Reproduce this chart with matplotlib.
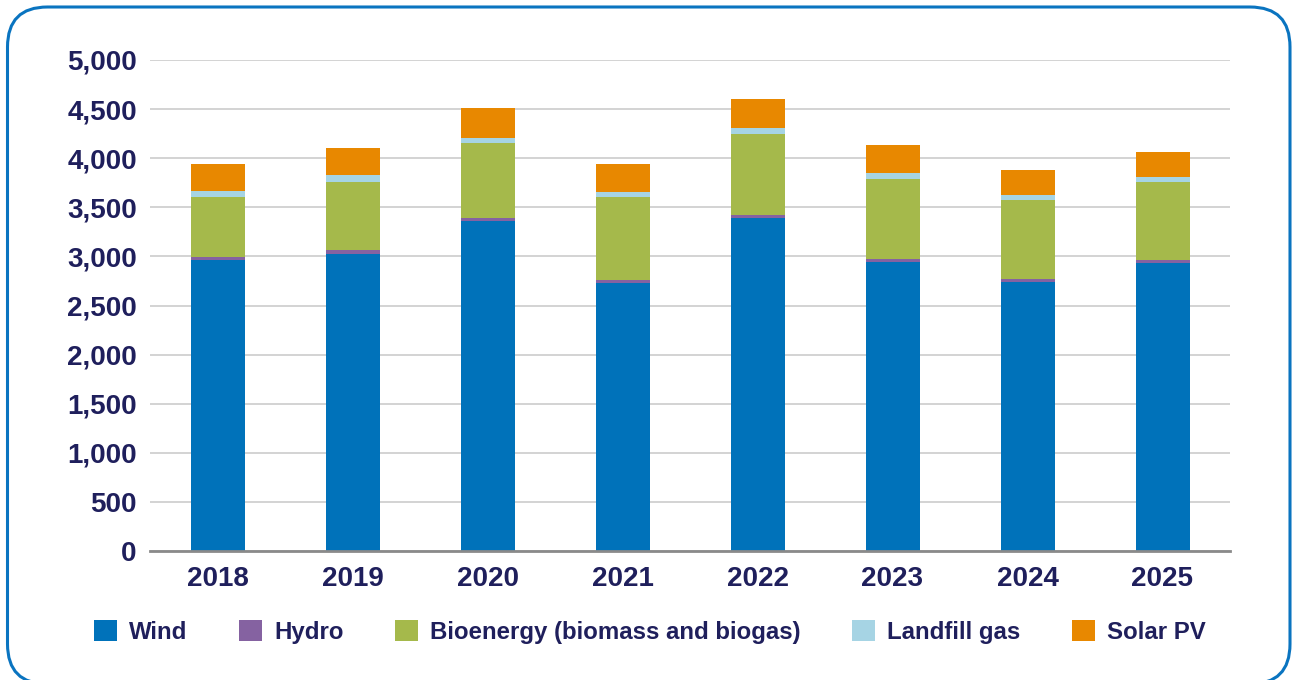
import matplotlib
matplotlib.use("Agg")
import matplotlib.pyplot as plt
from matplotlib.patches import FancyBboxPatch, Patch
import numpy as np

# Renewable generation by source (stacked), 2018-2025
years = ["2018", "2019", "2020", "2021", "2022", "2023", "2024", "2025"]
wind = [2960, 3024, 3360, 2730, 3386, 2940, 2736, 2933]
hydro = [30, 37, 36, 33, 31, 34, 37, 33]
bioenergy = [610, 701, 762, 841, 830, 819, 806, 796]
landfill_gas = [68, 65, 51, 50, 58, 58, 51, 48]
solar_pv = [271, 278, 301, 285, 298, 284, 251, 257]

series = [
    ("Wind", wind, "#0072BA"),
    ("Hydro", hydro, "#8562A1"),
    ("Bioenergy (biomass and biogas)", bioenergy, "#A5B94B"),
    ("Landfill gas", landfill_gas, "#A6D4E4"),
    ("Solar PV", solar_pv, "#E88800"),
]

navy = "#1F1F5C"
plt.rcParams["font.family"] = ["Liberation Sans", "DejaVu Sans"]
plt.rcParams["font.weight"] = "bold"

W, H = 1292, 680
fig = plt.figure(figsize=(W / 100, H / 100), dpi=100)

# rounded frame around the whole chart (coordinates in inches)
frame = FancyBboxPatch((7.5 / 100, -4 / 100), 1282.5 / 100, 677 / 100,
                       boxstyle="round,pad=0,rounding_size=0.40",
                       transform=fig.dpi_scale_trans, facecolor="white",
                       edgecolor="#0A74C0", linewidth=2.2, zorder=-1)
fig.patches.append(frame)

ax = fig.add_axes([150 / W, 1 - 551 / H, 1080 / W, 491 / H])
ax.set_facecolor("none")
ax.set_zorder(2)

x = np.arange(len(years))
bottom = np.zeros(len(years))
for name, vals, color in series:
    ax.bar(x, vals, width=0.4, bottom=bottom, color=color, label=name,
           edgecolor="none", linewidth=0, zorder=3)
    bottom += np.array(vals)

ax.set_xlim(-0.5, len(years) - 0.5)
ax.set_ylim(0, 5000)
ax.set_yticks(np.arange(0, 5001, 500))
ax.set_yticklabels([f"{v:,}" for v in range(0, 5001, 500)])
ax.set_xticks(x)
ax.set_xticklabels(years)

ax.yaxis.grid(True, color="#D0D0D0", linewidth=1.3, zorder=0)
ax.set_axisbelow(True)
for side in ("top", "right", "left"):
    ax.spines[side].set_visible(False)
ax.spines["bottom"].set_color("#8A8A8A")
ax.spines["bottom"].set_linewidth(2)
ax.spines["bottom"].set_zorder(4)

ax.tick_params(axis="y", length=0, pad=9.5, labelsize=20, labelcolor=navy)
ax.tick_params(axis="x", length=0, pad=11, labelsize=20, labelcolor=navy)

handles = [Patch(facecolor=c, edgecolor="none", label=n) for n, _, c in series]
leg = fig.legend(handles=handles, loc="center", bbox_to_anchor=(650 / W, 1 - 632 / H),
                 ncol=5, frameon=False, fontsize=17.3, handlelength=0.95,
                 handleheight=0.95, handletextpad=0.5, columnspacing=2.15,
                 borderaxespad=0, borderpad=0)
for t in leg.get_texts():
    t.set_color(navy)
    t.set_fontweight("bold")

fig.savefig("out.png", dpi=100)
